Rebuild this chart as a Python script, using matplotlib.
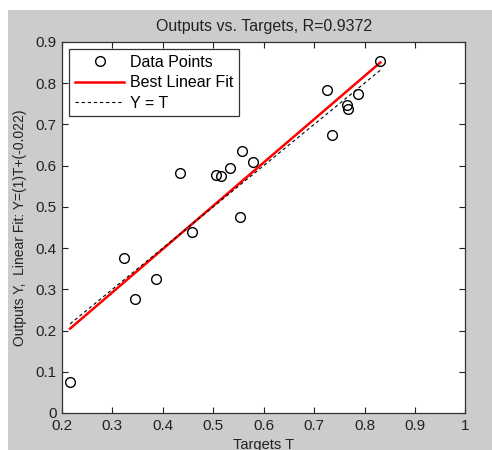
import numpy as np
import matplotlib
matplotlib.use("Agg")
import matplotlib.pyplot as plt
from matplotlib.patches import Rectangle

# targets and network outputs
targets = [0.216, 0.323, 0.345, 0.386, 0.433, 0.457, 0.505, 0.516, 0.534,
           0.553, 0.557, 0.578, 0.726, 0.735, 0.765, 0.768, 0.786, 0.831]
outputs = [0.076, 0.375, 0.277, 0.325, 0.581, 0.439, 0.577, 0.575, 0.593,
           0.476, 0.635, 0.609, 0.784, 0.675, 0.747, 0.736, 0.774, 0.853]

# regression results
r_value = 0.9372
fit_slope = 1.049
fit_intercept = -0.022

plt.rcParams['font.family'] = ['Liberation Sans', 'DejaVu Sans']
plt.rcParams['font.size'] = 10

fig = plt.figure(figsize=(4.92, 4.5), dpi=100, facecolor='white')
# grey figure panel
fig.patches.append(Rectangle((8/492, 0), 1, 1 - 10/450, transform=fig.transFigure,
                             facecolor='#cccccc', edgecolor='none', zorder=-1))

ax = fig.add_axes([62/492, 37/450, 403.5/492, 371.2/450])
ax.set_facecolor('white')

t = np.array(targets)
x_line = np.array([t.min(), t.max()])

ax.plot(targets, outputs, 'o', mfc='none', mec='black', ms=7, mew=1,
        label='Data Points', zorder=3)
ax.plot(x_line, fit_slope * x_line + fit_intercept, '-', color='red', lw=1.8,
        label='Best Linear Fit', zorder=2)
ax.plot(x_line, x_line, '--', color='black', lw=0.8, dashes=(3, 2.5),
        label='Y = T', zorder=2)

ax.set_xlim(0.2, 1)
ax.set_ylim(0, 0.9)
ax.set_xticks(np.arange(0.2, 1.01, 0.1))
ax.set_yticks(np.arange(0, 0.91, 0.1))
ax.set_xticklabels(['0.2', '0.3', '0.4', '0.5', '0.6', '0.7', '0.8', '0.9', '1'])
ax.set_yticklabels(['0', '0.1', '0.2', '0.3', '0.4', '0.5', '0.6', '0.7', '0.8', '0.9'])
ax.tick_params(direction='in', top=True, right=True, length=4, width=0.8,
               colors='#222222', labelsize=11, pad=4)
for s in ax.spines.values():
    s.set_color('#333333')
    s.set_linewidth(0.9)

ax.set_title('Outputs vs. Targets, R=%.4f' % r_value, fontsize=11.5, pad=8, color='#222222')
ax.set_xlabel('Targets T', fontsize=10.5, labelpad=4, color='#222222')
ax.set_ylabel('Outputs Y,  Linear Fit: Y=(%.2g)T+(%.2g)' % (fit_slope, fit_intercept),
              fontsize=10, labelpad=6, color='#222222')

leg = ax.legend(loc='upper left', fancybox=False, framealpha=1, edgecolor='#333333',
                fontsize=11.5, borderaxespad=0.45, handlelength=3.1, handletextpad=0.35,
                labelspacing=0.35, borderpad=0.35)
leg.get_frame().set_linewidth(0.9)

fig.savefig('out.png', dpi=100, facecolor=fig.get_facecolor())
